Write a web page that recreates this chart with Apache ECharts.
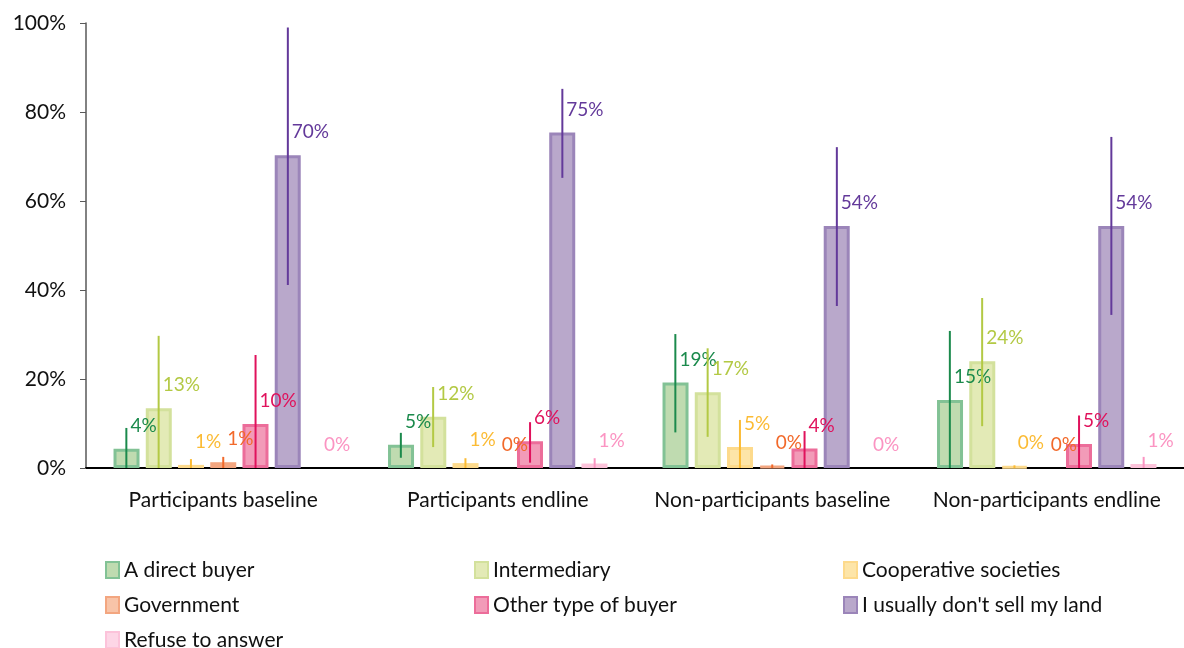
<!DOCTYPE html>
<html>
<head>
<meta charset="utf-8">
<title>Who do you sell your land to</title>
<script src="https://cdn.jsdelivr.net/npm/echarts@6/dist/echarts.min.js"></script>
<style>
  html, body { margin: 0; padding: 0; background: #fff; }
  #chart { width: 1184px; height: 648px; }
</style>
</head>
<body>
<div id="chart"></div>
<script>
const categories = ['Participants baseline', 'Participants endline', 'Non-participants baseline', 'Non-participants endline']
const seriesNames = ['A direct buyer', 'Intermediary', 'Cooperative societies', 'Government', 'Other type of buyer', "I usually don't sell my land", 'Refuse to answer']

// bar values (%)
const directBuyer = [4.3, 5.2, 19.2, 15.3]
const intermediary = [13.4, 11.5, 17.0, 24.0]
const cooperative = [0.7, 1.1, 4.7, 0.3]
const government = [1.3, 0, 0.4, 0]
const otherBuyer = [9.9, 6.0, 4.4, 5.4]
const dontSell = [70.3, 75.4, 54.4, 54.4]
const refuse = [0, 1.0, 0, 0.9]

// error bar bounds (%)
const directLow = [0, 2.3, 8.0, 0]
const directHigh = [9.0, 7.9, 30.1, 30.8]
const intermediaryLow = [0, 4.7, 7.0, 9.4]
const intermediaryHigh = [29.7, 18.2, 26.9, 38.2]
const cooperativeLow = [0, 0, 0, 0]
const cooperativeHigh = [2.0, 2.2, 10.8, 0.6]
const governmentLow = [0, 0, 0, 0]
const governmentHigh = [2.5, 0, 0.8, 0]
const otherLow = [0, 1.2, 0, 0]
const otherHigh = [25.4, 10.3, 8.3, 11.8]
const dontSellLow = [41.1, 65.2, 36.4, 34.4]
const dontSellHigh = [99.0, 85.2, 72.1, 74.4]
const refuseLow = [0, 0, 0, 0]
const refuseHigh = [0, 2.2, 0, 2.5]

const yTicks = [0, 20, 40, 60, 80, 100]

const values = [directBuyer, intermediary, cooperative, government, otherBuyer, dontSell, refuse]
const lows = [directLow, intermediaryLow, cooperativeLow, governmentLow, otherLow, dontSellLow, refuseLow]
const highs = [directHigh, intermediaryHigh, cooperativeHigh, governmentHigh, otherHigh, dontSellHigh, refuseHigh]

const fills = ['#bfdbb0', '#e3eab6', '#fde5a8', '#f8c4a8', '#f29bb8', '#b9a8cb', '#fdd6e6']
const borders = ['#82c295', '#d3e19c', '#fdda8c', '#f3a680', '#ec6d9a', '#9b85b9', '#fcc3da']
const labelColors = ['#1b8a4c', '#b3c944', '#fbbb34', '#f2692a', '#e0125c', '#63399a', '#fb94c2']

const FONT = 'Lato'
const BAR_W = 26
const PITCH = 32.3

const chart = echarts.init(document.getElementById('chart'))

const barSeries = seriesNames.map((name, i) => ({
  name: name,
  type: 'bar',
  barWidth: BAR_W,
  barGap: '24%',
  itemStyle: { color: fills[i], borderColor: borders[i], borderWidth: 3 },
  label: {
    show: true,
    position: [17, -23],
    align: 'left',
    verticalAlign: 'middle',
    color: labelColors[i],
    fontFamily: FONT,
    fontSize: 19,
    formatter: p => Math.round(p.value) + '%'
  },
  data: values[i].map(v => v === 0 ? { value: 0, itemStyle: { borderWidth: 0 } } : v)
}))

const errorSeries = seriesNames.map((name, i) => ({
  name: name + ' error',
  type: 'custom',
  silent: true,
  z: 5,
  renderItem: (params, api) => {
    const lo = api.coord([api.value(0), api.value(1)])
    const hi = api.coord([api.value(0), api.value(2)])
    const x = lo[0] + (i - 3) * PITCH
    return {
      type: 'line',
      shape: { x1: x, y1: lo[1], x2: x, y2: hi[1] },
      style: { stroke: labelColors[i], lineWidth: 2 }
    }
  },
  data: categories.map((c, k) => [k, lows[i][k], highs[i][k]])
}))

const legendBase = {
  orient: 'vertical',
  icon: 'rect',
  itemWidth: 13,
  itemHeight: 16,
  itemGap: 13,
  height: 120,
  itemStyle: { borderWidth: 2 },
  textStyle: { fontFamily: FONT, fontSize: 21, color: '#111', lineHeight: 22 },
  selectedMode: false
}

const option = {
  animation: false,
  grid: { left: 86, right: 0, top: 23, bottom: 180, containLabel: false },
  legend: [
    Object.assign({}, legendBase, { left: 100, top: 554, data: [seriesNames[0], seriesNames[3], seriesNames[6]] }),
    Object.assign({}, legendBase, { left: 469, top: 554, data: [seriesNames[1], seriesNames[4]] }),
    Object.assign({}, legendBase, { left: 838, top: 554, data: [seriesNames[2], seriesNames[5]] })
  ],
  xAxis: {
    type: 'category',
    data: categories,
    axisLine: { lineStyle: { color: '#000', width: 2 } },
    axisTick: { show: false },
    axisLabel: { interval: 0, fontFamily: FONT, fontSize: 21, color: '#111', margin: 22 }
  },
  yAxis: {
    type: 'value',
    min: yTicks[0],
    max: yTicks[yTicks.length - 1],
    interval: 20,
    axisLine: { show: true, lineStyle: { color: '#595959', width: 1.5 } },
    axisTick: { show: true, length: 6, lineStyle: { color: '#595959' } },
    splitLine: { show: false },
    axisLabel: { fontFamily: FONT, fontSize: 21, color: '#111', margin: 20, formatter: '{value}%' }
  },
  series: barSeries.concat(errorSeries)
}

chart.setOption(option)
</script>
</body>
</html>
